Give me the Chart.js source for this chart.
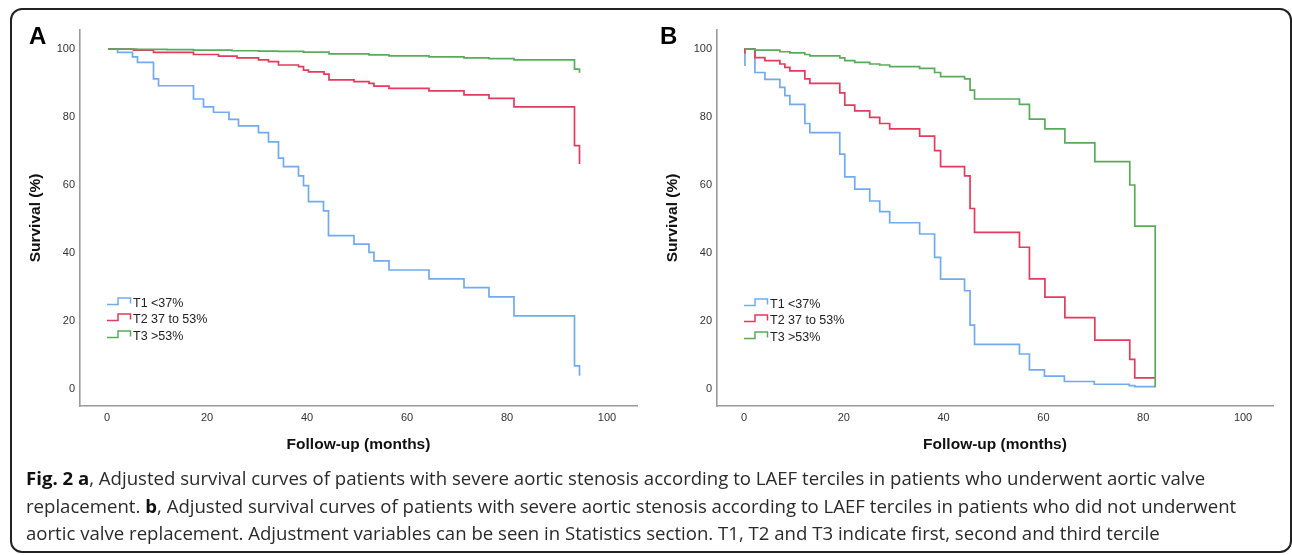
<!DOCTYPE html>
<html>
<head>
<meta charset="utf-8">
<script src="https://cdn.jsdelivr.net/npm/chart.js@4.4.1/dist/chart.umd.min.js"></script>
<style>
  html, body { margin: 0; padding: 0; background: #fff; }
  body { width: 1292px; height: 555px; position: relative; overflow: hidden; }
  #frame { position: absolute; left: 10px; top: 8px; width: 1282px; height: 545px; border: 2px solid #222; border-radius: 12px; box-sizing: border-box; }
  .wrap { position: absolute; top: 0; }
  .panel-letter { position: absolute; font-family: "Liberation Sans", Arial, sans-serif; font-weight: bold; font-size: 24px; line-height: 24px; color: #000; }
  .legend { position: absolute; font-family: "Liberation Sans", Arial, sans-serif; font-size: 12.5px; color: #222; }
  .legend .row { position: absolute; left: 0; height: 16px; white-space: pre; }
  .legend svg { position: absolute; left: 0; top: 0; }
  .legend span { position: absolute; left: 26px; top: 0; line-height: 16px; }
  #caption { position: absolute; left: 26px; top: 464px; font-family: "Open Sans", sans-serif; font-size: 18.6px; color: #2a2a2a; line-height: 27.5px; white-space: nowrap; }
  #caption b { font-weight: bold; color: #111; }
</style>
</head>
<body>
<div id="frame"></div>
<div class="wrap" style="left:0px;"><canvas id="chartA" width="646" height="470"></canvas></div>
<div class="wrap" style="left:637px;"><canvas id="chartB" width="655" height="470"></canvas></div>
<div class="panel-letter" style="left:29px;top:24px;">A</div>
<div class="panel-letter" style="left:660px;top:24px;">B</div>
<div class="legend" id="legendA" style="left:107px;top:295px;"></div>
<div class="legend" id="legendB" style="left:744px;top:296px;"></div>
<div id="caption">
  <div><b>Fig. 2 a</b>, Adjusted survival curves of patients with severe aortic stenosis according to LAEF terciles in patients who underwent aortic valve</div>
  <div>replacement. <b>b</b>, Adjusted survival curves of patients with severe aortic stenosis according to LAEF terciles in patients who did not underwent</div>
  <div>aortic valve replacement. Adjustment variables can be seen in Statistics section. T1, T2 and T3 indicate first, second and third tercile</div>
</div>
<script>
// ---------- data ----------
const seriesLabels = ["T1 <37%", "T2 37 to 53%", "T3 >53%"];
const seriesColors = ["#72aaf0", "#e33a5e", "#5aaa5c"];

const xTicks = [0, 20, 40, 60, 80, 100];
const yTicks = [0, 20, 40, 60, 80, 100];
const xTitle = "Follow-up (months)";
const yTitle = "Survival (%)";

// Panel A (aortic valve replacement)
const aT1Time = [0.2, 2.1, 5.1, 6.1, 9.3, 10.3, 17.3, 19.3, 21.3, 24.4, 26.3, 30.3, 32.3, 34.3, 35.3, 38.3, 39.3, 40.3, 43.3, 44.3, 49.4, 52.4, 53.4, 56.4, 64.4, 71.4, 76.4, 81.4, 93.5, 94.5];
const aT1Surv = [100, 99.0, 97.7, 96.1, 91.2, 89.2, 85.3, 83.0, 81.4, 79.3, 77.4, 75.4, 72.7, 67.9, 65.4, 62.7, 59.8, 55.1, 52.4, 45.1, 42.6, 40.2, 37.7, 35.0, 32.4, 29.8, 27.1, 21.5, 6.8, 3.9];
const aT2Time = [0.2, 5.3, 9.3, 17.3, 22.3, 26.0, 30.3, 32.3, 34.3, 38.3, 39.3, 40.3, 43.4, 44.4, 49.4, 52.4, 53.4, 56.4, 64.4, 71.4, 76.4, 81.4, 93.5, 94.5];
const aT2Surv = [100, 99.7, 99.0, 98.4, 97.9, 97.4, 96.8, 96.3, 95.3, 94.8, 93.8, 93.3, 92.6, 90.9, 90.4, 89.9, 89.1, 88.4, 87.7, 86.5, 85.5, 83.0, 71.6, 66.2];
const aT3Time = [0.2, 6.0, 12.0, 17.3, 25.0, 30.3, 34.3, 39.3, 44.4, 52.4, 56.4, 64.4, 71.4, 76.4, 81.4, 93.5, 94.5];
const aT3Surv = [100, 99.9, 99.8, 99.7, 99.5, 99.4, 99.3, 99.1, 98.6, 98.3, 98.0, 97.7, 97.4, 97.2, 96.8, 94.1, 93.0];

// Panel B (no aortic valve replacement)
const bT1Time = [0.2, 0.2, 2.2, 4.2, 7.2, 8.2, 9.2, 12.2, 13.2, 19.2, 20.2, 22.2, 25.2, 27.2, 29.2, 35.2, 38.2, 39.4, 44.2, 45.3, 46.2, 55.2, 57.2, 60.2, 64.2, 70.2, 77.2, 78.3, 82.4];
const bT1Surv = [95, 100, 93.1, 91.1, 88.7, 86.3, 83.7, 78.1, 75.4, 69.1, 62.4, 58.8, 55.3, 52.2, 48.9, 45.6, 38.7, 32.3, 28.9, 18.8, 13.1, 10.3, 5.6, 3.8, 2.2, 1.4, 1.0, 0.7, 0.7];
const bT2Time = [0.2, 0.2, 2.2, 4.2, 7.2, 8.2, 9.2, 12.2, 13.2, 19.2, 20.2, 22.2, 25.2, 27.2, 29.2, 35.2, 38.2, 39.4, 44.2, 45.3, 46.2, 55.2, 57.2, 60.3, 64.3, 70.3, 77.3, 78.3, 82.4];
const bT2Surv = [98.7, 100, 97.5, 96.6, 95.6, 94.6, 93.6, 91.2, 89.9, 87.1, 83.5, 81.8, 79.9, 78.1, 76.5, 74.4, 70.1, 65.4, 62.7, 53.1, 46.1, 41.7, 32.4, 27.0, 21.0, 14.4, 8.7, 3.3, 3.3];
const bT3Time = [0.2, 2.2, 7.2, 9.2, 12.2, 13.2, 19.2, 20.2, 22.2, 25.2, 27.2, 29.2, 35.2, 38.2, 39.4, 44.2, 45.3, 46.2, 55.2, 57.2, 60.3, 64.3, 70.3, 77.3, 78.3, 82.4];
const bT3Surv = [100, 99.7, 99.2, 98.9, 98.4, 98.0, 97.4, 96.6, 96.1, 95.6, 95.3, 94.8, 94.3, 93.1, 91.9, 91.2, 87.9, 85.3, 83.7, 79.4, 76.5, 72.4, 66.9, 60.0, 47.9, 0.5];

// ---------- chart ----------
Chart.defaults.font.family = '"Liberation Sans", Arial, sans-serif';

function pts(t, s) { return t.map((v, i) => ({ x: v, y: s[i] })); }

function makeChart(id, times, survs, rightPad) {
  const datasets = times.map((t, i) => ({
    label: seriesLabels[i],
    data: pts(t, survs[i]),
    borderColor: seriesColors[i],
    backgroundColor: seriesColors[i],
    borderWidth: 1.7,
    stepped: 'before',
    pointRadius: 0,
    fill: false,
    order: 2 - i
  }));
  return new Chart(document.getElementById(id), {
    type: 'line',
    data: { datasets },
    options: {
      responsive: false,
      animation: false,
      devicePixelRatio: 1,
      layout: { padding: { top: 30, right: rightPad, left: 0, bottom: 0 } },
      plugins: { legend: { display: false }, tooltip: { enabled: false } },
      scales: {
        x: {
          type: 'linear', min: -5.4, max: 106,
          afterBuildTicks: s => { s.ticks = xTicks.map(v => ({ value: v })); },
          afterFit: s => { s.height = 64; },
          grid: { display: false, drawTicks: false },
          border: { display: true, color: '#9a9a9a', width: 1.6 },
          ticks: { color: '#333', font: { size: 11 }, padding: 5, maxRotation: 0 },
          title: { display: true, text: xTitle, color: '#111', font: { size: 15.5, weight: 'bold' }, padding: { top: 0, bottom: 15.5 } }
        },
        y: {
          type: 'linear', min: -5, max: 105.6,
          afterBuildTicks: s => { s.ticks = yTicks.map(v => ({ value: v })); },
          afterFit: s => { s.width = 80; },
          grid: { display: false, drawTicks: false },
          border: { display: true, color: '#9a9a9a', width: 1.6 },
          ticks: { color: '#333', font: { size: 11 }, padding: 5 },
          title: { display: true, text: yTitle, color: '#111', font: { size: 15.5, weight: 'bold' }, padding: { top: 26.5, bottom: 0 } }
        }
      }
    }
  });
}

makeChart('chartA', [aT1Time, aT2Time, aT3Time], [aT1Surv, aT2Surv, aT3Surv], 9);
makeChart('chartB', [bT1Time, bT2Time, bT3Time], [bT1Surv, bT2Surv, bT3Surv], 19);

// ---------- legends (HTML, real text) ----------
function buildLegend(id) {
  const el = document.getElementById(id);
  seriesLabels.forEach((lab, i) => {
    const row = document.createElement('div');
    row.className = 'row';
    row.style.top = (i * 16.3) + 'px';
    row.innerHTML = '<svg width="26" height="16"><polyline points="0,9.5 11,9.5 11,3 23.5,3 23.5,8.5" fill="none" stroke="' + seriesColors[i] + '" stroke-width="1.5"/></svg><span></span>';
    row.querySelector('span').textContent = lab;
    el.appendChild(row);
  });
}
buildLegend('legendA');
buildLegend('legendB');
</script>
</body>
</html>
